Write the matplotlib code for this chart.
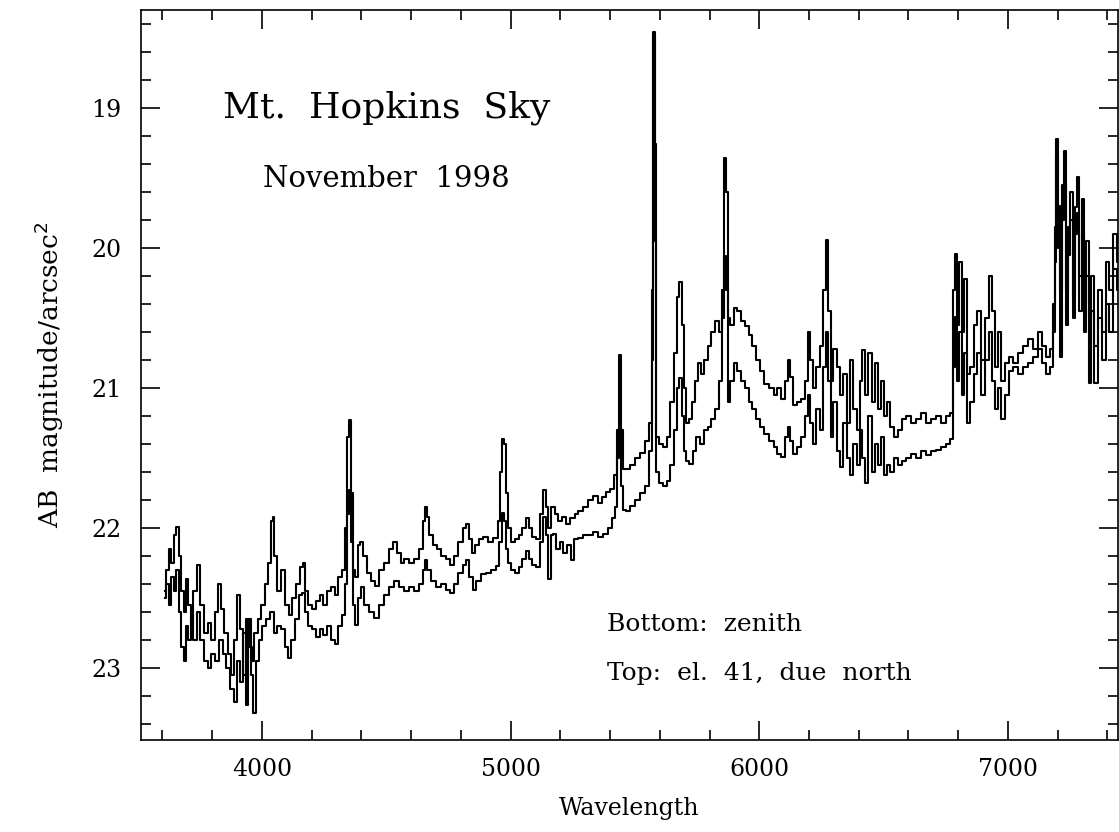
import numpy as np
import matplotlib
matplotlib.use('Agg')
import matplotlib.pyplot as plt
from matplotlib.ticker import MultipleLocator

# Top curve: elevation 41, due north (brighter sky)
wave_top = [3610, 3620, 3630, 3640, 3650, 3660, 3670, 3680, 3690, 3700, 3710, 3720, 3730, 3745, 3760,
            3775, 3790, 3805, 3820, 3830, 3840, 3855, 3870, 3880, 3895, 3908, 3920, 3930, 3945, 3955,
            3965, 3975, 3990, 4005, 4020, 4030, 4040, 4046, 4055, 4070, 4085, 4100, 4115, 4130, 4145,
            4160, 4168, 4180, 4195, 4210, 4225, 4240, 4255, 4270, 4285, 4300, 4315, 4330, 4340, 4348,
            4355, 4362, 4370, 4380, 4392, 4400, 4415, 4430, 4445, 4462, 4480, 4500, 4520, 4535, 4550,
            4565, 4580, 4600, 4620, 4640, 4652, 4660, 4668, 4680, 4695, 4710, 4730, 4750, 4765, 4780,
            4800, 4815, 4825, 4838, 4852, 4865, 4880, 4900, 4920, 4940, 4955, 4962, 4968, 4976, 4985,
            4995, 5010, 5025, 5040, 5055, 5068, 5080, 5095, 5110, 5125, 5137, 5147, 5157, 5170, 5185,
            5200, 5215, 5230, 5250, 5265, 5280, 5300, 5320, 5340, 5360, 5375, 5392, 5410, 5425, 5433,
            5440, 5447, 5455, 5470, 5490, 5510, 5530, 5550, 5565, 5572, 5577, 5583, 5590, 5605, 5620,
            5635, 5650, 5665, 5675, 5683, 5692, 5700, 5711, 5722, 5735, 5750, 5760, 5770, 5785, 5800,
            5815, 5830, 5845, 5855, 5863, 5870, 5878, 5890, 5905, 5920, 5935, 5950, 5965, 5980, 5995,
            6010, 6030, 6050, 6065, 6080, 6095, 6110, 6120, 6130, 6145, 6160, 6175, 6190, 6200, 6210,
            6220, 6235, 6250, 6262, 6273, 6282, 6292, 6305, 6318, 6330, 6345, 6360, 6372, 6385, 6398,
            6410, 6420, 6432, 6445, 6458, 6470, 6482, 6495, 6508, 6520, 6535, 6550, 6565, 6580, 6600,
            6620, 6640, 6660, 6680, 6700, 6720, 6740, 6760, 6775, 6785, 6792, 6800, 6810, 6820, 6830,
            6842, 6855, 6870, 6885, 6900, 6915, 6930, 6942, 6955, 6968, 6980, 6995, 7010, 7030, 7050,
            7070, 7090, 7110, 7130, 7145, 7160, 7175, 7185, 7190, 7196, 7205, 7212, 7220, 7228, 7236,
            7245, 7255, 7265, 7275, 7282, 7292, 7300, 7310, 7320, 7330, 7340, 7355, 7370, 7385, 7400,
            7415, 7430, 7445]
mag_top = [22.45, 22.30, 22.15, 22.25, 22.05, 21.99, 22.20, 22.45, 22.60, 22.36, 22.55, 22.70, 22.45, 22.26, 22.55,
           22.75, 22.68, 22.80, 22.60, 22.40, 22.58, 22.75, 22.90, 23.05, 22.80, 22.48, 22.72, 23.05, 22.65, 22.85,
           22.95, 22.75, 22.65, 22.55, 22.40, 22.25, 21.95, 21.92, 22.20, 22.45, 22.30, 22.55, 22.62, 22.50, 22.40,
           22.28, 22.25, 22.45, 22.55, 22.58, 22.52, 22.48, 22.55, 22.45, 22.42, 22.48, 22.35, 22.30, 22.00, 21.35,
           21.23, 21.75, 22.30, 22.35, 22.12, 22.10, 22.20, 22.32, 22.38, 22.41, 22.30, 22.25, 22.15, 22.10, 22.18,
           22.25, 22.22, 22.25, 22.22, 22.15, 21.95, 21.85, 21.92, 22.05, 22.12, 22.15, 22.20, 22.22, 22.26, 22.20,
           22.10, 22.00, 21.97, 22.08, 22.18, 22.12, 22.08, 22.06, 22.10, 22.07, 21.95, 21.60, 21.36, 21.40, 21.75,
           22.00, 22.10, 22.08, 22.05, 22.00, 21.93, 22.00, 22.06, 22.08, 21.90, 21.73, 21.85, 22.00, 21.85, 21.90,
           21.95, 21.92, 21.97, 21.93, 21.90, 21.88, 21.85, 21.80, 21.77, 21.82, 21.78, 21.74, 21.72, 21.62, 21.30,
           20.76, 21.30, 21.58, 21.58, 21.55, 21.50, 21.46, 21.38, 21.25, 20.30, 18.46, 19.26, 21.35, 21.40, 21.42,
           21.35, 21.10, 20.75, 20.35, 20.24, 20.55, 21.00, 21.25, 21.22, 21.10, 20.95, 20.82, 20.90, 20.80, 20.70,
           20.60, 20.52, 20.60, 20.30, 19.36, 19.60, 20.50, 20.55, 20.43, 20.45, 20.52, 20.56, 20.62, 20.70, 20.80,
           20.88, 20.97, 21.00, 21.05, 21.00, 21.08, 20.95, 20.80, 20.92, 21.12, 21.10, 21.08, 20.95, 20.60, 20.80,
           21.00, 20.85, 20.70, 20.30, 19.94, 20.45, 20.95, 20.72, 20.85, 21.05, 20.90, 21.25, 20.80, 21.15, 21.30,
           20.95, 20.73, 21.05, 20.75, 21.10, 20.82, 21.15, 20.95, 21.20, 21.10, 21.28, 21.35, 21.30, 21.22, 21.20,
           21.25, 21.22, 21.18, 21.25, 21.22, 21.20, 21.25, 21.20, 21.18, 20.30, 20.04, 20.55, 20.10, 20.60, 20.22,
           20.90, 20.85, 20.55, 20.45, 20.80, 20.50, 20.20, 20.45, 20.85, 20.60, 20.95, 20.82, 20.78, 20.82, 20.75,
           20.70, 20.65, 20.72, 20.60, 20.70, 20.78, 20.72, 20.40, 19.85, 19.22, 19.70, 20.30, 19.55, 19.31, 20.30,
           19.85, 19.60, 20.35, 19.71, 19.49, 20.20, 19.65, 20.40, 19.95, 20.50, 20.20, 20.70, 20.30, 20.60, 20.10,
           20.30, 19.90, 20.10]

# Bottom curve: zenith
wave_bot = [3610, 3620, 3630, 3640, 3650, 3660, 3670, 3680, 3690, 3700, 3710, 3720, 3730, 3745, 3760,
            3775, 3790, 3805, 3820, 3835, 3850, 3865, 3880, 3895, 3905, 3918, 3930, 3940, 3950, 3960,
            3970, 3982, 3995, 4010, 4025, 4040, 4055, 4070, 4085, 4100, 4112, 4125, 4140, 4155, 4165,
            4180, 4195, 4210, 4225, 4240, 4255, 4270, 4285, 4300, 4315, 4330, 4340, 4348, 4355, 4362,
            4370, 4381, 4392, 4405, 4420, 4440, 4462, 4480, 4500, 4520, 4540, 4560, 4580, 4600, 4620,
            4640, 4652, 4660, 4672, 4690, 4710, 4730, 4750, 4765, 4780, 4800, 4815, 4825, 4840, 4855,
            4870, 4890, 4910, 4930, 4950, 4960, 4968, 4976, 4985, 4995, 5010, 5025, 5040, 5055, 5068,
            5080, 5095, 5110, 5125, 5137, 5147, 5157, 5167, 5177, 5190, 5205, 5220, 5235, 5249, 5262,
            5280, 5300, 5320, 5340, 5360, 5380, 5400, 5415, 5425, 5433, 5440, 5447, 5455, 5470, 5490,
            5510, 5530, 5550, 5565, 5572, 5577, 5583, 5590, 5605, 5620, 5635, 5650, 5665, 5675, 5683,
            5692, 5700, 5711, 5727, 5740, 5755, 5770, 5785, 5800, 5815, 5830, 5845, 5855, 5863, 5870,
            5878, 5890, 5905, 5920, 5935, 5950, 5965, 5980, 5995, 6010, 6030, 6050, 6065, 6080, 6095,
            6110, 6120, 6130, 6145, 6160, 6175, 6190, 6200, 6210, 6222, 6235, 6250, 6262, 6273, 6282,
            6292, 6305, 6318, 6330, 6345, 6360, 6372, 6385, 6398, 6410, 6420, 6432, 6445, 6458, 6470,
            6482, 6495, 6508, 6520, 6535, 6550, 6565, 6580, 6600, 6620, 6640, 6660, 6680, 6700, 6720,
            6740, 6760, 6775, 6785, 6792, 6800, 6810, 6820, 6830, 6842, 6855, 6870, 6885, 6900, 6915,
            6930, 6942, 6955, 6968, 6980, 6995, 7010, 7030, 7050, 7070, 7090, 7110, 7130, 7145, 7160,
            7175, 7185, 7190, 7196, 7205, 7212, 7220, 7228, 7236, 7245, 7255, 7265, 7275, 7282, 7292,
            7300, 7310, 7320, 7330, 7340, 7355, 7370, 7385, 7400, 7415, 7430, 7445]
mag_bot = [22.50, 22.40, 22.55, 22.35, 22.45, 22.30, 22.60, 22.85, 22.95, 22.70, 22.80, 22.62, 22.80, 22.60, 22.80,
           22.95, 23.00, 22.90, 22.95, 22.80, 22.90, 23.00, 23.15, 23.24, 22.95, 23.10, 22.75, 23.26, 22.65, 23.05,
           23.32, 22.95, 22.80, 22.70, 22.65, 22.60, 22.75, 22.70, 22.72, 22.85, 22.93, 22.80, 22.65, 22.48, 22.46,
           22.60, 22.70, 22.72, 22.78, 22.72, 22.76, 22.70, 22.80, 22.83, 22.70, 22.62, 22.40, 21.90, 21.73, 22.10,
           22.55, 22.69, 22.50, 22.42, 22.55, 22.60, 22.64, 22.55, 22.48, 22.42, 22.38, 22.42, 22.45, 22.42, 22.45,
           22.40, 22.30, 22.23, 22.30, 22.38, 22.42, 22.40, 22.44, 22.46, 22.40, 22.32, 22.26, 22.23, 22.35, 22.44,
           22.38, 22.33, 22.32, 22.30, 22.27, 22.10, 21.89, 21.95, 22.15, 22.25, 22.30, 22.32, 22.28, 22.22, 22.16,
           22.22, 22.26, 22.28, 22.10, 21.92, 22.05, 22.36, 22.05, 22.04, 22.15, 22.10, 22.18, 22.12, 22.23, 22.08,
           22.07, 22.05, 22.05, 22.03, 22.06, 22.04, 22.00, 21.93, 21.85, 21.50, 21.28, 21.70, 21.87, 21.88, 21.84,
           21.80, 21.75, 21.70, 21.45, 20.80, 18.49, 19.95, 21.60, 21.68, 21.70, 21.66, 21.55, 21.30, 21.00, 20.93,
           21.20, 21.45, 21.52, 21.54, 21.45, 21.35, 21.40, 21.30, 21.28, 21.22, 21.15, 20.95, 20.50, 20.06, 20.30,
           21.10, 20.95, 20.82, 20.88, 20.95, 21.00, 21.10, 21.15, 21.22, 21.28, 21.33, 21.38, 21.42, 21.47, 21.49,
           21.35, 21.28, 21.38, 21.47, 21.42, 21.35, 21.20, 21.05, 21.25, 21.40, 21.15, 21.30, 20.85, 20.60, 20.95,
           21.35, 21.10, 21.45, 21.56, 21.25, 21.50, 21.62, 21.40, 21.55, 21.30, 21.50, 21.68, 21.20, 21.60, 21.40,
           21.55, 21.35, 21.62, 21.55, 21.60, 21.50, 21.55, 21.52, 21.50, 21.47, 21.50, 21.45, 21.48, 21.45, 21.44,
           21.42, 21.40, 21.36, 20.85, 20.49, 20.95, 20.60, 21.05, 20.75, 21.25, 21.10, 20.90, 20.75, 21.05, 20.80,
           20.60, 20.95, 21.15, 21.00, 21.22, 21.05, 20.88, 20.85, 20.90, 20.85, 20.82, 20.78, 20.72, 20.82, 20.90,
           20.85, 20.60, 20.10, 19.35, 20.00, 20.78, 19.80, 19.55, 20.55, 20.05, 19.80, 20.50, 19.90, 19.75, 20.45,
           19.90, 20.60, 20.20, 20.96, 20.45, 20.96, 20.50, 20.80, 20.40, 20.60, 20.15, 20.30]

serif = ['DejaVu Serif']

fig = plt.figure(figsize=(11.19, 8.32), dpi=100)
ax = fig.add_axes([0.126, 0.111, 0.873, 0.877])

ax.plot(wave_top, mag_top, color='black', lw=1.5, drawstyle='steps-mid')
ax.plot(wave_bot, mag_bot, color='black', lw=1.5, drawstyle='steps-mid')

ax.set_xlim(3514, 7442)
ax.set_ylim(23.51, 18.30)

ax.xaxis.set_major_locator(MultipleLocator(1000))
ax.xaxis.set_minor_locator(MultipleLocator(200))
ax.yaxis.set_major_locator(MultipleLocator(1))
ax.yaxis.set_minor_locator(MultipleLocator(0.2))
ax.tick_params(which='both', direction='in', top=True, right=True, width=1.2)
ax.tick_params(which='major', length=14, labelsize=17)
ax.tick_params(axis='x', which='major', pad=13)
ax.tick_params(axis='y', which='major', pad=14)
ax.tick_params(which='minor', length=7)
for lab in ax.get_xticklabels() + ax.get_yticklabels():
    lab.set_family(serif)
for sp in ax.spines.values():
    sp.set_linewidth(1.2)

ax.set_xlabel('Wavelength', fontsize=17, family=serif, labelpad=12)
ax.set_ylabel(r'AB  magnitude/arcsec$^2$', fontsize=19, family=serif, labelpad=18)

ax.text(4502, 19.0, 'Mt.  Hopkins  Sky', fontsize=26, family=serif, ha='center', va='center')
ax.text(4502, 19.51, 'November  1998', fontsize=21, family=serif, ha='center', va='center')
ax.text(5386, 22.69, 'Bottom:  zenith', fontsize=18, family=serif, ha='left', va='center')
ax.text(5386, 23.04, 'Top:  el.  41,  due  north', fontsize=18, family=serif, ha='left', va='center')

fig.savefig('out.png', dpi=100)
